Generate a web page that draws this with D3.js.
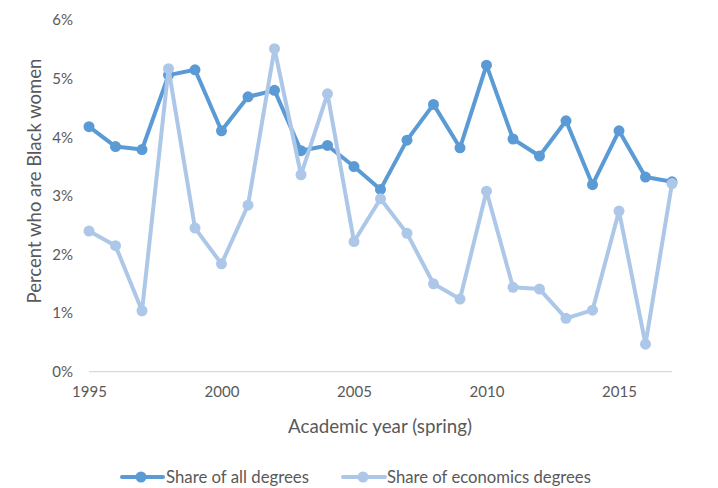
<!DOCTYPE html>
<html><head><meta charset="utf-8">
<script src="https://cdn.jsdelivr.net/npm/d3@7"></script>
<style>body{margin:0;background:#fff}text{font-family:Lato,"Open Sans",sans-serif;fill:#595959}</style>
</head><body><svg id="c" width="718" height="488"></svg>
<script>
const years = d3.range(1995, 2018);
const allDegrees = [4.18,3.84,3.79,5.06,5.15,4.11,4.69,4.80,3.77,3.86,3.50,3.11,3.95,4.56,3.82,5.23,3.97,3.68,4.28,3.19,4.11,3.32,3.24];
const econDegrees = [2.40,2.15,1.04,5.17,2.45,1.84,2.84,5.51,3.36,4.74,2.22,2.95,2.36,1.50,1.24,3.08,1.44,1.41,0.91,1.05,2.74,0.47,3.21];
const yTicks = [0,1,2,3,4,5,6];
const xTicks = [1995,2000,2005,2010,2015];
const seriesNames = ["Share of all degrees","Share of economics degrees"];
const colors = ["#5B9BD5","#ADC7E8"];

const svg = d3.select("#c");
const x = d3.scaleLinear().domain([1995,2017]).range([89,672]);
const y = d3.scaleLinear().domain([0,6]).range([371.7,20]);

function fit(sel, w){
  const base = parseFloat(sel.style("font-size"));
  const m = sel.node().getComputedTextLength();
  if (m > 0) sel.style("font-size", (base*w/m).toFixed(2)+"px");
}

svg.append("line").attr("x1",x(1995)).attr("x2",x(2017)).attr("y1",y(0)).attr("y2",y(0))
  .attr("stroke","#D9D9D9").attr("stroke-width",1.3);

const yAxis = d3.axisLeft(y).tickValues(yTicks).tickFormat(d=>d+"%").tickSize(0).tickPadding(0);
const gy = svg.append("g").attr("transform","translate(73,0)").call(yAxis);
gy.select(".domain").remove();
gy.selectAll("text").style("font-size","15px").attr("fill","#595959");

const xAxis = d3.axisBottom(x).tickValues(xTicks).tickFormat(d3.format("d")).tickSize(0).tickPadding(0);
const gx = svg.append("g").attr("transform",`translate(0,${y(0)+15})`).call(xAxis);
gx.select(".domain").remove();
gx.selectAll("text").style("font-size","15px").attr("fill","#595959");

const xt = svg.append("text").attr("x",380).attr("y",433).attr("text-anchor","middle")
  .style("font-size","17px").text("Academic year (spring)");
fit(xt, 184);
const yt = svg.append("text").attr("transform","translate(41,181) rotate(-90)").attr("text-anchor","middle")
  .style("font-size","17px").text("Percent who are Black women");
fit(yt, 245);

const line = d3.line().x((d,i)=>x(years[i])).y(d=>y(d));
[[allDegrees,0],[econDegrees,1]].forEach(([s,k])=>{
  svg.append("path").datum(s).attr("d",line).attr("fill","none")
    .attr("stroke",colors[k]).attr("stroke-width",4).attr("stroke-linejoin","round");
  svg.append("g").selectAll("circle").data(s).join("circle")
    .attr("cx",(d,i)=>x(years[i])).attr("cy",d=>y(d)).attr("r",5.5).attr("fill",colors[k]);
});

const leg = [[122,163,141,166,143],[343,385,363,387,204]];
leg.forEach(([a,b,m,t,w],k)=>{
  svg.append("line").attr("x1",a).attr("x2",b).attr("y1",477).attr("y2",477)
    .attr("stroke",colors[k]).attr("stroke-width",4).attr("stroke-linecap","round");
  svg.append("circle").attr("cx",m).attr("cy",477).attr("r",5.5).attr("fill",colors[k]);
  const tx = svg.append("text").attr("x",t).attr("y",482.5).style("font-size","15px").text(seriesNames[k]);
  fit(tx, w);
});
</script></body></html>
